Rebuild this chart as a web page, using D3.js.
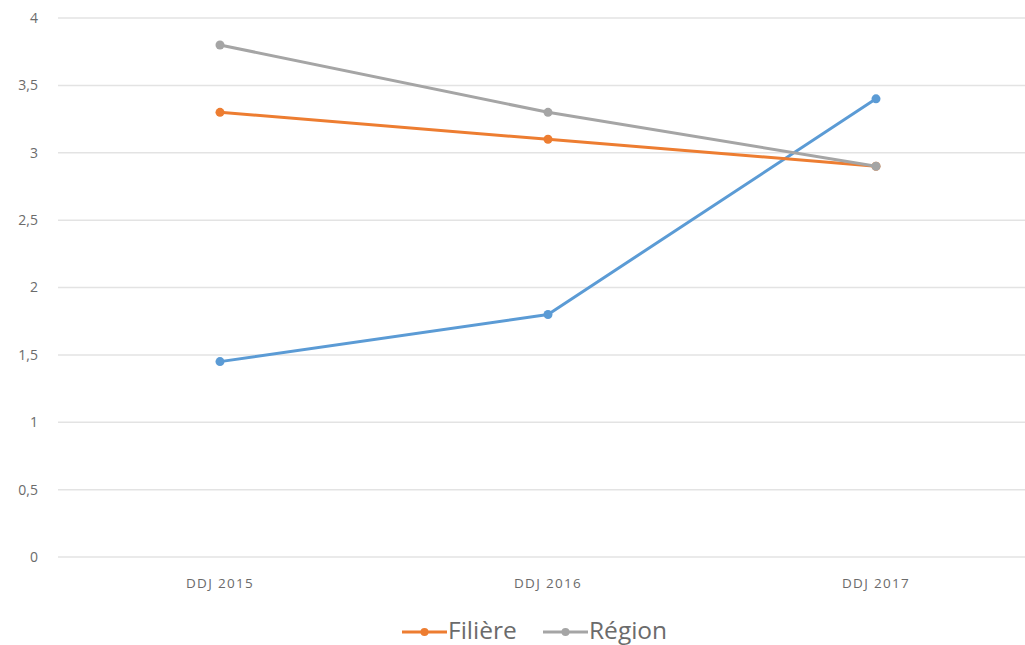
<!DOCTYPE html>
<html><head><meta charset="utf-8">
<script src="https://cdn.jsdelivr.net/npm/d3@7"></script>
<style>
html,body{margin:0;padding:0;background:#fff;}
svg{display:block;font-family:"Open Sans","Noto Sans",sans-serif;}
</style></head>
<body><svg id="c" width="1025" height="645"></svg>
<script>
const categories = ["DDJ 2015", "DDJ 2016", "DDJ 2017"];
const seriesNames = ["", "Filière", "Région"];
const seriesColors = ["#5B9BD5", "#ED7D31", "#A5A5A5"];
const blueValues = [1.45, 1.8, 3.4];
const filiereValues = [3.3, 3.1, 2.9];
const regionValues = [3.8, 3.3, 2.9];
const yTicks = [0, 0.5, 1, 1.5, 2, 2.5, 3, 3.5, 4];

const series = [
  {name: seriesNames[0], color: seriesColors[0], values: blueValues, legend: false},
  {name: seriesNames[1], color: seriesColors[1], values: filiereValues, legend: true},
  {name: seriesNames[2], color: seriesColors[2], values: regionValues, legend: true}
];

const svg = d3.select("#c");
const x = d3.scalePoint().domain(categories).range([220, 876]);
const y = d3.scaleLinear().domain([0, 4]).range([557, 18]);

// gridlines
svg.append("g").selectAll("line").data(yTicks).join("line")
  .attr("x1", 58).attr("x2", 1025)
  .attr("y1", d => y(d)).attr("y2", d => y(d))
  .attr("stroke", "#e3e3e3").attr("stroke-width", 1.5);

// y labels
svg.append("g").selectAll("text").data(yTicks).join("text")
  .attr("x", 38).attr("y", d => y(d)).attr("dy", "0.35em")
  .attr("text-anchor", "end").attr("font-size", 14).attr("fill", "#6b6b6b")
  .text(d => d3.format("")(d).replace(".", ","));

// x labels
svg.append("g").selectAll("text").data(categories).join("text")
  .attr("x", d => x(d)).attr("y", 588)
  .attr("text-anchor", "middle").attr("font-size", 13.5).attr("fill", "#6b6b6b")
  .attr("letter-spacing", "1.3px")
  .text(d => d);

const line = d3.line().x((d, i) => x(categories[i])).y(d => y(d));

series.forEach(s => {
  svg.append("path").datum(s.values)
    .attr("d", line).attr("fill", "none")
    .attr("stroke", s.color).attr("stroke-width", 3).attr("stroke-linejoin", "round");
  svg.append("g").selectAll("circle").data(s.values).join("circle")
    .attr("cx", (d, i) => x(categories[i])).attr("cy", d => y(d))
    .attr("r", 4.5).attr("fill", s.color);
});

// legend
const legendItems = series.filter(s => s.legend);
const lg = svg.append("g");
const lx = [402, 543];
legendItems.forEach((s, i) => {
  const g = lg.append("g").attr("transform", `translate(${lx[i]},632)`);
  g.append("line").attr("x1", 0).attr("x2", 45).attr("y1", 0).attr("y2", 0)
    .attr("stroke", s.color).attr("stroke-width", 3);
  g.append("circle").attr("cx", 22.5).attr("cy", 0).attr("r", 4).attr("fill", s.color);
  g.append("text").attr("x", 46).attr("y", 7).attr("font-size", 24.5)
    .attr("fill", "#6b6b6b").text(s.name);
});
</script></body></html>
